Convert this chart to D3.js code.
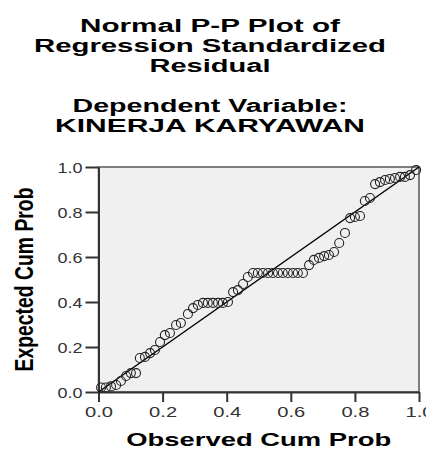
<!DOCTYPE html>
<html>
<head>
<meta charset="utf-8">
<script src="https://cdn.jsdelivr.net/npm/d3@7"></script>
<style>
  html, body { margin: 0; padding: 0; background: #fff; }
  svg { display: block; }
  text { font-family: "Liberation Sans", Arial, sans-serif; }
</style>
</head>
<body>
<script>
// ---- data ----
const titleLines = ["Normal P-P Plot of", "Regression Standardized", "Residual"];
const subtitleLines = ["Dependent Variable:", "KINERJA KARYAWAN"];
const xLabel = "Observed Cum Prob";
const yLabel = "Expected Cum Prob";
const tickValues = [0.0, 0.2, 0.4, 0.6, 0.8, 1.0];

const observed = [
  0.008, 0.023, 0.039, 0.055, 0.070, 0.086, 0.101, 0.117, 0.129, 0.145,
  0.161, 0.176, 0.192, 0.207, 0.223, 0.242, 0.257, 0.279, 0.295, 0.310,
  0.326, 0.341, 0.357, 0.373, 0.388, 0.404, 0.420, 0.435, 0.451, 0.466,
  0.482, 0.497, 0.513, 0.529, 0.544, 0.560, 0.575, 0.591, 0.607, 0.622,
  0.638, 0.657, 0.672, 0.688, 0.704, 0.719, 0.735, 0.751, 0.769, 0.785,
  0.800, 0.816, 0.831, 0.847, 0.863, 0.878, 0.894, 0.909, 0.925, 0.941,
  0.956, 0.972, 0.991
];
const expected = [
  0.020, 0.020, 0.025, 0.031, 0.049, 0.071, 0.084, 0.084, 0.151, 0.156,
  0.173, 0.187, 0.222, 0.253, 0.262, 0.298, 0.307, 0.347, 0.373, 0.387,
  0.396, 0.396, 0.396, 0.396, 0.396, 0.400, 0.444, 0.453, 0.480, 0.511,
  0.529, 0.529, 0.529, 0.529, 0.529, 0.529, 0.529, 0.529, 0.529, 0.529,
  0.529, 0.564, 0.587, 0.596, 0.604, 0.609, 0.622, 0.662, 0.707, 0.773,
  0.778, 0.782, 0.849, 0.862, 0.924, 0.933, 0.942, 0.947, 0.951, 0.956,
  0.956, 0.964, 0.987
];

// ---- layout ----
const W = 426, H = 451;
const plot = { left: 98.5, right: 419, top: 167, bottom: 392 };

const svg = d3.select("body").append("svg")
  .attr("width", W).attr("height", H);

const x = d3.scaleLinear().domain([0, 1]).range([plot.left, plot.right]);
const y = d3.scaleLinear().domain([0, 1]).range([plot.bottom, plot.top]);

// titles
const titleW = [260, 352, 121];
const titleBase = [32, 52, 72];
titleLines.forEach((t, i) => {
  svg.append("text")
    .attr("x", 210).attr("y", titleBase[i])
    .attr("text-anchor", "middle")
    .attr("font-size", 17.5).attr("font-weight", "bold")
    .attr("textLength", titleW[i]).attr("lengthAdjust", "spacingAndGlyphs")
    .attr("fill", "#000")
    .text(t);
});
const subW = [275, 310];
const subBase = [112, 132];
subtitleLines.forEach((t, i) => {
  svg.append("text")
    .attr("x", 210).attr("y", subBase[i])
    .attr("text-anchor", "middle")
    .attr("font-size", 17.5).attr("font-weight", "bold")
    .attr("textLength", subW[i]).attr("lengthAdjust", "spacingAndGlyphs")
    .attr("fill", "#000")
    .text(t);
});

// plot background
svg.append("rect")
  .attr("x", plot.left).attr("y", plot.top)
  .attr("width", plot.right - plot.left).attr("height", plot.bottom - plot.top)
  .attr("fill", "#f0f0f0")
  .attr("stroke", "#555").attr("stroke-width", 1.5);

// x axis
const xAxis = d3.axisBottom(x).tickValues(tickValues).tickFormat(d3.format(".1f"))
  .tickSize(10).tickSizeOuter(0);
const gx = svg.append("g").attr("transform", `translate(0,${plot.bottom})`).call(xAxis);
gx.select(".domain").attr("stroke", "#333").attr("stroke-width", 2);
gx.selectAll(".tick line").attr("stroke", "#333").attr("stroke-width", 2);
gx.selectAll(".tick text")
  .attr("y", 25).attr("dy", 0)
  .attr("font-size", 14.8).attr("fill", "#333")
  .attr("textLength", 28).attr("lengthAdjust", "spacingAndGlyphs");

// y axis
const yAxis = d3.axisLeft(y).tickValues(tickValues).tickFormat(d3.format(".1f"))
  .tickSize(13).tickSizeOuter(0);
const gy = svg.append("g").attr("transform", `translate(${plot.left},0)`).call(yAxis);
gy.select(".domain").attr("stroke", "#333").attr("stroke-width", 2);
gy.selectAll(".tick line").attr("stroke", "#333").attr("stroke-width", 2);
gy.selectAll(".tick text")
  .attr("x", -16).attr("dy", "0.36em")
  .attr("font-size", 14.8).attr("fill", "#333")
  .attr("textLength", 25).attr("lengthAdjust", "spacingAndGlyphs");

// axis labels
svg.append("text")
  .attr("x", (plot.left + plot.right) / 2).attr("y", 446)
  .attr("text-anchor", "middle")
  .attr("font-size", 19).attr("font-weight", "bold")
  .attr("textLength", 265).attr("lengthAdjust", "spacingAndGlyphs")
  .attr("fill", "#000")
  .text(xLabel);

svg.append("text")
  .attr("transform", `translate(33,${(plot.top + plot.bottom) / 2}) rotate(-90)`)
  .attr("text-anchor", "middle")
  .attr("font-size", 25).attr("font-weight", "bold")
  .attr("textLength", 184).attr("lengthAdjust", "spacingAndGlyphs")
  .attr("fill", "#000")
  .text(yLabel);

// reference diagonal
svg.append("line")
  .attr("x1", x(0)).attr("y1", y(0))
  .attr("x2", x(1)).attr("y2", y(1))
  .attr("stroke", "#000").attr("stroke-width", 1.5);

// points
const pts = observed.map((o, i) => ({ o, e: expected[i] }));
svg.append("g").selectAll("circle")
  .data(pts).join("circle")
  .attr("cx", d => x(d.o))
  .attr("cy", d => y(d.e))
  .attr("r", 4.5)
  .attr("fill", "none")
  .attr("stroke", "#222")
  .attr("stroke-width", 1.1);
</script>
</body>
</html>
